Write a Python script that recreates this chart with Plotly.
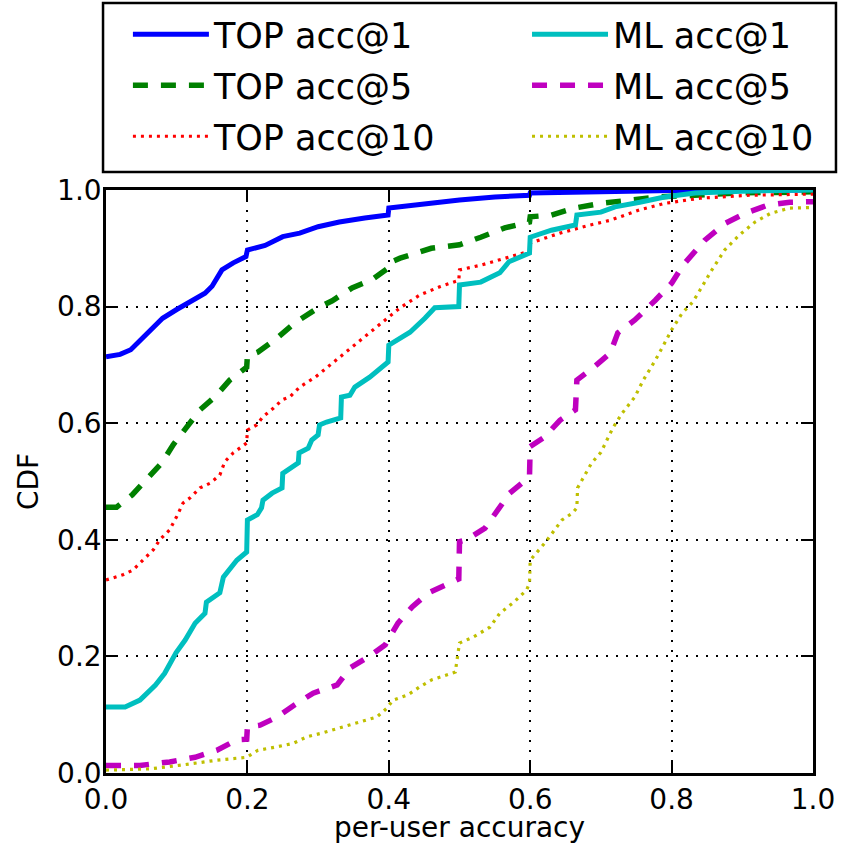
import plotly.graph_objects as go

# ---------------- data ----------------
top1_x = [0.0, 0.02, 0.035, 0.05, 0.062, 0.08, 0.10, 0.12, 0.14, 0.15, 0.164, 0.18, 0.198, 0.20,
          0.225, 0.25, 0.274, 0.30, 0.33, 0.366, 0.399, 0.40, 0.444, 0.50, 0.55, 0.599, 0.60,
          0.70, 0.80, 1.0]
top1_y = [0.714, 0.718, 0.726, 0.745, 0.76, 0.78, 0.795, 0.808, 0.823, 0.835, 0.863, 0.875, 0.886, 0.897,
          0.905, 0.92, 0.926, 0.937, 0.945, 0.952, 0.957, 0.969, 0.976, 0.983, 0.988, 0.991, 0.995,
          0.997, 0.999, 1.0]

top5_x = [0.0, 0.015, 0.037, 0.058, 0.079, 0.095, 0.114, 0.133, 0.154, 0.175, 0.199, 0.20, 0.215,
          0.239, 0.267, 0.30, 0.32, 0.348, 0.376, 0.399, 0.40, 0.416, 0.46, 0.50, 0.53, 0.564,
          0.599, 0.60, 0.63, 0.663, 0.70, 0.74, 0.78, 0.90, 1.0]
top5_y = [0.456, 0.456, 0.477, 0.503, 0.532, 0.563, 0.592, 0.623, 0.645, 0.674, 0.696, 0.715, 0.722,
          0.743, 0.772, 0.798, 0.81, 0.832, 0.846, 0.866, 0.875, 0.883, 0.90, 0.906, 0.919, 0.935,
          0.945, 0.954, 0.957, 0.969, 0.977, 0.983, 0.988, 0.995, 0.997]

top10_x = [0.0, 0.024, 0.038, 0.052, 0.067, 0.076, 0.09, 0.10, 0.109, 0.119, 0.133, 0.147, 0.161,
           0.168, 0.18, 0.199, 0.20, 0.213, 0.222, 0.237, 0.249, 0.26, 0.274, 0.296, 0.331, 0.36,
           0.395, 0.416, 0.444, 0.472, 0.499, 0.50, 0.53, 0.557, 0.599, 0.60, 0.642, 0.685, 0.713,
           0.755, 0.79, 0.84, 0.91, 1.0]
top10_y = [0.331, 0.34, 0.348, 0.365, 0.383, 0.40, 0.417, 0.44, 0.463, 0.472, 0.489, 0.497, 0.511,
           0.534, 0.549, 0.566, 0.588, 0.597, 0.611, 0.626, 0.64, 0.645, 0.662, 0.679, 0.714, 0.743,
           0.777, 0.798, 0.82, 0.834, 0.845, 0.863, 0.871, 0.88, 0.895, 0.909, 0.926, 0.94, 0.948,
           0.966, 0.977, 0.986, 0.991, 0.993]

ml1_x = [0.0, 0.027, 0.048, 0.07, 0.083, 0.099, 0.112, 0.126, 0.14, 0.142, 0.161, 0.166, 0.185,
         0.199, 0.20, 0.214, 0.22, 0.222, 0.235, 0.249, 0.25, 0.26, 0.272, 0.273, 0.286, 0.291,
         0.30, 0.302, 0.312, 0.332, 0.333, 0.345, 0.352, 0.373, 0.399, 0.40, 0.43, 0.451, 0.465,
         0.499, 0.50, 0.53, 0.557, 0.57, 0.599, 0.60, 0.63, 0.664, 0.666, 0.70, 0.72, 0.755,
         0.79, 0.833, 0.90, 1.0]
ml1_y = [0.113, 0.113, 0.125, 0.151, 0.171, 0.206, 0.228, 0.257, 0.274, 0.293, 0.309, 0.336, 0.365,
         0.379, 0.434, 0.443, 0.455, 0.468, 0.48, 0.489, 0.514, 0.523, 0.532, 0.549, 0.557, 0.571,
         0.58, 0.597, 0.602, 0.609, 0.645, 0.648, 0.662, 0.679, 0.705, 0.734, 0.756, 0.78, 0.798,
         0.80, 0.837, 0.842, 0.858, 0.877, 0.892, 0.919, 0.931, 0.94, 0.957, 0.962, 0.971, 0.979,
         0.988, 0.995, 0.998, 1.0]

ml5_x = [0.0, 0.048, 0.09, 0.126, 0.157, 0.185, 0.199, 0.20, 0.218, 0.242, 0.267, 0.293, 0.327,
         0.345, 0.371, 0.395, 0.413, 0.433, 0.456, 0.484, 0.499, 0.50, 0.51, 0.536, 0.553, 0.571,
         0.599, 0.60, 0.62, 0.642, 0.664, 0.666, 0.69, 0.713, 0.724, 0.748, 0.777, 0.80, 0.816,
         0.847, 0.876, 0.904, 0.936, 0.967, 1.0]
ml5_y = [0.013, 0.013, 0.019, 0.027, 0.039, 0.057, 0.058, 0.079, 0.082, 0.096, 0.117, 0.137, 0.151,
         0.18, 0.199, 0.22, 0.257, 0.285, 0.309, 0.326, 0.333, 0.397, 0.40, 0.42, 0.451, 0.48,
         0.508, 0.56, 0.576, 0.605, 0.623, 0.674, 0.696, 0.72, 0.755, 0.777, 0.811, 0.84, 0.871,
         0.914, 0.943, 0.96, 0.974, 0.979, 0.98]

ml10_x = [0.0, 0.062, 0.109, 0.157, 0.199, 0.215, 0.242, 0.265, 0.284, 0.307, 0.335, 0.359, 0.383,
          0.397, 0.406, 0.427, 0.444, 0.461, 0.494, 0.50, 0.519, 0.543, 0.557, 0.576, 0.595, 0.599,
          0.60, 0.621, 0.632, 0.645, 0.66, 0.666, 0.667, 0.687, 0.70, 0.717, 0.73, 0.748, 0.76,
          0.777, 0.79, 0.80, 0.815, 0.83, 0.84, 0.857, 0.875, 0.896, 0.918, 0.94, 0.967, 1.0]
ml10_y = [0.005, 0.007, 0.014, 0.022, 0.027, 0.039, 0.045, 0.051, 0.062, 0.069, 0.079, 0.087, 0.096,
          0.111, 0.125, 0.134, 0.148, 0.16, 0.173, 0.223, 0.233, 0.25, 0.274, 0.292, 0.314, 0.326,
          0.365, 0.395, 0.412, 0.434, 0.446, 0.455, 0.489, 0.532, 0.55, 0.592, 0.617, 0.645, 0.674,
          0.708, 0.737, 0.76, 0.789, 0.808, 0.828, 0.863, 0.897, 0.923, 0.945, 0.96, 0.969, 0.97]

x_ticks = [0.0, 0.2, 0.4, 0.6, 0.8, 1.0]
y_ticks = [0.0, 0.2, 0.4, 0.6, 0.8, 1.0]

FONT = "DejaVu Sans"
DASH = "15px,13px"
DOT = "3px,5px"

# (name, x, y, colour, dash, width, legend column)
series = [
    ("TOP acc@1", top1_x, top1_y, "#0000ff", "solid", 5, "legend"),
    ("TOP acc@5", top5_x, top5_y, "#008000", DASH, 5.5, "legend"),
    ("TOP acc@10", top10_x, top10_y, "#ff0000", DOT, 3.2, "legend"),
    ("ML acc@1", ml1_x, ml1_y, "#00bfbf", "solid", 5, "legend2"),
    ("ML acc@5", ml5_x, ml5_y, "#bf00bf", DASH, 5.5, "legend2"),
    ("ML acc@10", ml10_x, ml10_y, "#bfbf00", DOT, 3.2, "legend2"),
]

fig = go.Figure()
for name, xs, ys, color, dash, width, leg in series:
    fig.add_trace(go.Scatter(
        x=xs, y=ys, mode="lines", name=name, legend=leg, legendgroup=name,
        line=dict(color=color, dash=dash, width=width),
    ))

axis_common = dict(
    showline=True, linecolor="black", linewidth=2.5, mirror="allticks",
    ticks="inside", ticklen=12, tickwidth=2, tickcolor="black",
    showgrid=True, gridcolor="black", gridwidth=1.5, griddash="2px,8px",
    zeroline=False, tickformat=".1f",
    tickfont=dict(family=FONT, size=28, color="black"),
)

fig.update_xaxes(range=[0, 1], tickvals=x_ticks,
                 title=dict(text="per-user accuracy", font=dict(family=FONT, size=28, color="black"), standoff=4),
                 **axis_common)
fig.update_yaxes(range=[0, 1], tickvals=y_ticks, ticklabelstandoff=-4,
                 title=dict(text="CDF", font=dict(family=FONT, size=28, color="black"), standoff=11),
                 **axis_common)

legend_common = dict(
    orientation="v", yanchor="top", xanchor="left", y=1.3173,
    itemwidth=76, tracegroupgap=2.5,
    font=dict(family=FONT, size=35, color="black"),
    borderwidth=0, bgcolor="rgba(0,0,0,0)",
)

fig.update_layout(
    width=841, height=844,
    margin=dict(l=106, r=28, t=190, b=71, autoexpand=False),
    paper_bgcolor="white", plot_bgcolor="white",
    font=dict(family=FONT, color="black"),
    legend=dict(x=0.031, **legend_common),
    legend2=dict(x=0.5955, **legend_common),
    shapes=[dict(type="rect", xref="paper", yref="paper",
                 x0=-0.0042, x1=1.0325, y0=1.0309, y1=1.3208,
                 line=dict(color="black", width=2.5), fillcolor="rgba(0,0,0,0)")],
)

fig.write_html("out.html", config={"displayModeBar": False},
               post_script="document.body.style.margin='0';")
